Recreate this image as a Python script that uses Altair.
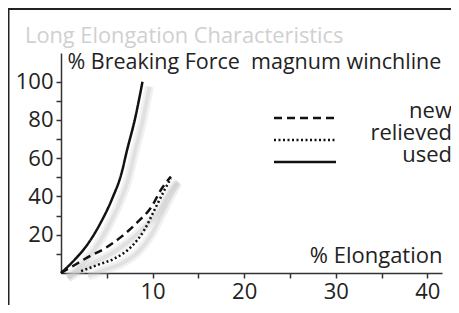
import altair as alt
import pandas as pd

series_names = ["new", "relieved", "used"]
new_x = [0, 1.5, 2.9, 4.8, 6.6, 8.4, 9.9, 10.9, 12.0]
new_y = [0, 4.2, 8.2, 12.9, 19.0, 26.8, 34.7, 43.4, 50.4]
relieved_x = [2.2, 4.0, 5.9, 7.7, 9.1, 10.2, 11.3, 12.0]
relieved_y = [1.0, 4.2, 7.7, 13.8, 22.5, 32.9, 43.4, 49.5]
used_x = [0, 1.5, 2.9, 4.3, 5.6, 6.6, 7.2, 8.1, 8.9]
used_y = [0, 7, 15, 26, 39, 52, 64, 81, 100]
x_ticks = [5, 10, 15, 20, 25, 30, 35, 40]
y_ticks = [10, 20, 30, 40, 50, 60, 70, 80, 90, 100]

rows = []
for name, xs, ys in zip(series_names, [new_x, relieved_x, used_x], [new_y, relieved_y, used_y]):
    for i, (a, b) in enumerate(zip(xs, ys)):
        rows.append({"series": name, "elong": a, "force": b, "i": i})
df = pd.DataFrame(rows)

FONT = "Open Sans"

x_enc = alt.X("elong:Q", scale=alt.Scale(domain=[0, 41.6], nice=False),
              axis=alt.Axis(values=x_ticks, labelExpr="datum.value % 10 == 0 ? datum.label : ''",
                            title="% Elongation", titleAngle=0, titleAlign="right",
                            titleBaseline="alphabetic", titleX=381, titleY=-11,
                            labelPadding=3))
y_enc = alt.Y("force:Q", scale=alt.Scale(domain=[0, 115], nice=False),
              axis=alt.Axis(values=y_ticks, labelExpr="datum.value % 20 == 0 ? datum.label : ''",
                            title="% Breaking Force\u00a0\u00a0magnum winchline", titleAngle=0,
                            titleAlign="left", titleBaseline="alphabetic", titleX=6, titleY=15,
                            titleFontSize=21.5, labelPadding=3))

shadow_wide = alt.Chart(df).mark_line(color="#d0d0d0", strokeWidth=9, opacity=0.3,
                                      xOffset=7, yOffset=5, interpolate="monotone").encode(
    x=x_enc, y=y_enc, detail="series:N", order="i:Q")
shadow = alt.Chart(df).mark_line(color="#c4c4c4", strokeWidth=4, opacity=0.35,
                                 xOffset=7, yOffset=5, interpolate="monotone").encode(
    x=x_enc, y=y_enc, detail="series:N", order="i:Q")

lines = alt.Chart(df).mark_line(color="#111", strokeWidth=2.5, interpolate="monotone").encode(
    x=x_enc, y=y_enc, order="i:Q",
    strokeDash=alt.StrokeDash("series:N",
        scale=alt.Scale(domain=series_names, range=[[8, 5], [2, 2.5], [1, 0]]),
        legend=alt.Legend(orient="none", legendX=233, legendY=54, title=None,
                          symbolType="M-5,0H5", symbolSize=153.76, symbolStrokeWidth=2.5,
                          symbolStrokeColor="#111", labelAlign="right", labelOffset=136,
                          labelBaseline="alphabetic", labelFontSize=22, labelFont=FONT,
                          labelColor="#222", rowPadding=-1)))

frame_df = pd.DataFrame({"a": [0]})
frame_left = alt.Chart(frame_df).mark_rule(color="#222", strokeWidth=2).encode(
    x=alt.value(-52.5), y=alt.value(-44), y2=alt.value(260))
frame_top = alt.Chart(frame_df).mark_rule(color="#222", strokeWidth=2).encode(
    x=alt.value(-53.5), x2=alt.value(400), y=alt.value(-44))

chart = alt.layer(shadow_wide, shadow, lines, frame_left, frame_top).properties(
    width=381, height=220,
    padding={"left": 53, "top": 45, "right": 9, "bottom": 32},
    autosize=alt.AutoSizeParams(type="none"),
    title=alt.TitleParams("Long Elongation Characteristics", anchor="start", frame="group",
                          dx=-36, dy=57, offset=0, baseline="alphabetic", color="#d0d0d0",
                          font=FONT, fontSize=21.8, fontWeight="normal"),
).configure_view(stroke=None).configure_axis(
    grid=False, domainColor="#333", domainWidth=1.5, tickColor="#333", tickWidth=1.5,
    tickSize=5, labelFont=FONT, labelFontSize=22, labelColor="#222",
    titleFont=FONT, titleFontSize=22, titleColor="#222", titleFontWeight="normal",
)

chart.save("out.html", embed_options={"renderer": "svg", "actions": False})
